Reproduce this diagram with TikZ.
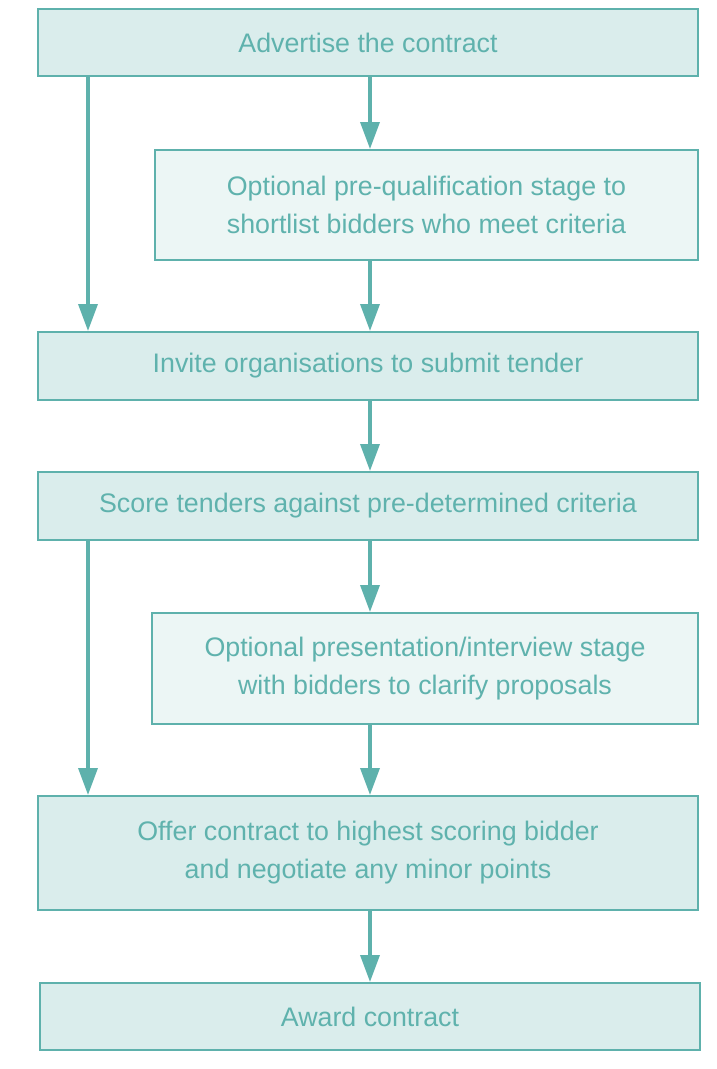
\documentclass[tikz,border=0pt]{standalone}
\usepackage{fontspec}
\setmainfont{Liberation Sans}
\usetikzlibrary{arrows.meta}

\definecolor{tealline}{HTML}{5EB1AC}
\definecolor{tealtext}{HTML}{5FB2AD}
\definecolor{tealfill}{HTML}{DAEDEC}
\definecolor{tealpale}{HTML}{ECF6F5}

\tikzset{
    stagebox/.style = {draw = tealline, line width = 2pt, fill = tealfill, text = tealtext,
        font = {\fontsize{26.8}{38}\selectfont}, align = center, inner sep = 0pt,
        minimum width = 660pt},
    optbox/.style = {stagebox, fill = tealpale},
    arr/.style = {draw = tealline, line width = 3.5pt,
        -{Triangle[length = 27pt, width = 19pt, fill = tealline]}}
}

\begin{document}
\begin{tikzpicture}[x = 1pt, y = -1pt]
        \useasboundingbox (0, 0) rectangle (716, 1069);
        \coordinate (mid) at (370, 0);
        \coordinate (lft) at (88, 0);

        \node[stagebox, minimum height = 67pt] (advert) at (368, 42.5) {Advertise the contract};
        \node[optbox, minimum width = 543pt, minimum height = 110pt] (prequal) at (426.5, 205)
            {Optional pre-qualification stage to\\shortlist bidders who meet criteria};
        \node[stagebox, minimum height = 68pt] (invite) at (368, 366) {Invite organisations to submit tender};
        \node[stagebox, minimum height = 68pt] (score) at (368, 506) {Score tenders against pre-determined criteria};
        \node[optbox, minimum width = 546pt, minimum height = 111pt] (present) at (425, 668.5)
            {Optional presentation/interview stage\\with bidders to clarify proposals};
        \node[stagebox, minimum height = 114pt] (offer) at (368, 853)
            {Offer contract to highest scoring bidder\\and negotiate any minor points};
        \node[stagebox, minimum height = 67pt] (award) at (370, 1016.5) {Award contract};

        \draw[arr] (advert.south -| mid) -- (prequal.north -| mid);
        \draw[arr] (advert.south -| lft) -- (invite.north -| lft);
        \draw[arr] (prequal.south -| mid) -- (invite.north -| mid);
        \draw[arr] (invite.south -| mid) -- (score.north -| mid);
        \draw[arr] (score.south -| mid) -- (present.north -| mid);
        \draw[arr] (score.south -| lft) -- (offer.north -| lft);
        \draw[arr] (present.south -| mid) -- (offer.north -| mid);
        \draw[arr] (offer.south -| mid) -- (award.north -| mid);
    \end{tikzpicture}
\end{document}
